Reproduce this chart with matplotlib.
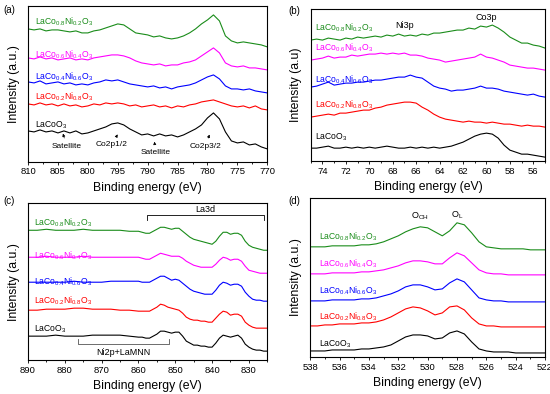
import numpy as np
import matplotlib.pyplot as plt
from matplotlib.ticker import MultipleLocator, AutoMinorLocator

plt.rcParams['font.family'] = ['Liberation Sans', 'DejaVu Sans']
plt.rcParams['mathtext.default'] = 'regular'

names = [r'LaCoO$_3$', r'LaCo$_{0.2}$Ni$_{0.8}$O$_3$', r'LaCo$_{0.4}$Ni$_{0.6}$O$_3$',
         r'LaCo$_{0.6}$Ni$_{0.4}$O$_3$', r'LaCo$_{0.8}$Ni$_{0.2}$O$_3$']
colors = ['black', '#ff0000', '#0000ff', '#ff00ff', '#1a8c1a']

# ---- (a) Co2p ----
x_a = np.arange(810, 769, -1)
a_black = [31, 30, 32, 30, 31, 29, 31, 29, 31, 28, 29, 31, 33, 35, 38, 39, 37, 33, 30, 27, 28,
           26, 28, 26, 27, 25, 27, 30, 33, 37, 44, 49, 43, 30, 21, 19, 20, 17, 18, 15, 13]
a_red = [58, 57, 59, 57, 58, 56, 58, 56, 57, 55, 56, 58, 57, 59, 58, 59, 58, 56, 57, 55, 56,
         57, 55, 56, 54, 56, 55, 57, 58, 60, 61, 62, 60, 58, 56, 55, 56, 54, 56, 53, 52]
a_blue = [80, 79, 81, 78, 79, 80, 78, 79, 77, 78, 77, 79, 80, 82, 81, 82, 80, 78, 77, 76, 75,
          76, 74, 75, 73, 75, 76, 77, 79, 82, 85, 87, 83, 76, 73, 73, 72, 73, 71, 70, 69]
a_mag = [104, 103, 105, 103, 104, 102, 103, 104, 102, 103, 102, 104, 105, 106, 107, 107, 106, 104, 101, 99, 98,
         97, 98, 96, 97, 97, 99, 100, 102, 106, 110, 114, 109, 99, 96, 95, 96, 94, 94, 93, 92]
a_green = [133, 132, 133, 131, 132, 132, 131, 130, 131, 129, 129, 131, 132, 134, 136, 138, 137, 133, 129, 128, 127,
           125, 126, 124, 123, 124, 126, 129, 133, 138, 142, 147, 141, 126, 121, 119, 120, 119, 118, 117, 115]
a_labels_y = [37, 65, 85, 107, 140]

# ---- (b) Ni3p / Co3p ----
x_b = np.arange(75, 54.9, -0.5)
b_black = [13, 13, 14, 15, 13, 13, 14, 13, 14, 13, 14, 13, 14, 15, 14, 13, 13, 14, 13, 14, 13,
           14, 13, 14, 15, 17, 19, 22, 25, 27, 28, 27, 23, 16, 11, 9, 7, 7, 6, 5, 4]
b_red = [44, 45, 46, 47, 46, 48, 48, 49, 50, 51, 51, 53, 54, 56, 57, 58, 59, 59, 58, 54, 51,
         47, 44, 42, 41, 40, 39, 40, 39, 39, 38, 39, 38, 37, 37, 36, 35, 36, 35, 35, 34]
b_blue = [74, 75, 77, 79, 76, 77, 78, 78, 79, 79, 80, 81, 81, 82, 83, 84, 84, 86, 84, 83, 79,
          75, 73, 72, 70, 71, 71, 72, 73, 75, 73, 73, 72, 70, 69, 68, 67, 66, 67, 65, 64]
b_mag = [101, 102, 103, 105, 103, 104, 104, 106, 105, 106, 107, 107, 108, 107, 108, 107, 108, 106, 106, 105, 103,
         102, 101, 99, 100, 101, 102, 103, 104, 107, 104, 103, 101, 99, 96, 95, 94, 93, 93, 92, 91]
b_green = [121, 122, 121, 123, 122, 121, 123, 122, 124, 123, 124, 125, 124, 126, 125, 127, 125, 126, 125, 127, 126,
           128, 128, 129, 130, 131, 131, 133, 132, 135, 134, 136, 133, 129, 124, 121, 118, 118, 116, 115, 113]
b_labels_y = [24, 56, 81, 113, 133]

# ---- (c) La3d ----
x_c = [890, 887.5, 885, 882.5, 880, 877.5, 875, 872.5, 870, 867.5, 865, 862.5, 860, 859, 858, 857, 856,
       855, 854, 853, 852, 851, 850, 849, 848, 847, 846, 845, 844, 843, 842, 841, 840, 839, 838, 837,
       836, 835, 834, 833, 832, 831, 830, 829, 828, 827, 826, 825]
c_black = [24, 24, 24, 25, 24, 24, 24, 25, 25, 25, 25, 24, 23, 23, 22, 22, 24, 26, 29, 29, 28, 27, 28, 28,
           24, 19, 17, 15, 15, 14, 14, 13, 13, 17, 22, 25, 24, 23, 24, 25, 22, 16, 13, 11, 10, 10, 9, 9]
c_red = [50, 50, 51, 51, 51, 52, 52, 51, 51, 51, 50, 50, 49, 49, 49, 49, 51, 53, 56, 55, 53, 52, 51, 50,
         47, 43, 41, 40, 40, 39, 39, 38, 38, 42, 46, 49, 48, 45, 46, 46, 44, 38, 35, 33, 32, 32, 32, 32]
c_blue = [78, 78, 78, 78, 78, 79, 78, 78, 78, 79, 79, 79, 79, 78, 78, 78, 80, 82, 84, 84, 82, 80, 81, 80,
          77, 74, 71, 69, 68, 67, 66, 66, 66, 70, 75, 78, 77, 75, 76, 76, 74, 68, 64, 61, 60, 60, 59, 59]
c_mag = [103, 103, 104, 103, 103, 103, 104, 103, 103, 103, 103, 103, 103, 102, 101, 101, 103, 105, 107, 106, 105, 104, 104, 104,
         102, 99, 97, 95, 94, 93, 93, 93, 93, 96, 100, 103, 102, 100, 101, 101, 99, 94, 90, 89, 88, 87, 87, 87]
c_green = [130, 130, 131, 130, 130, 130, 131, 130, 130, 130, 130, 129, 129, 128, 127, 127, 129, 131, 133, 133, 132, 131, 132, 132,
           129, 126, 123, 121, 120, 119, 118, 117, 116, 119, 124, 128, 128, 126, 127, 127, 125, 119, 115, 113, 112, 111, 110, 110]
c_labels_y = [31, 59, 78, 104, 138]

# ---- (d) O1s ----
x_d = np.arange(538, 521.9, -0.5)
d_black = [6, 6, 6, 7, 7, 7, 7, 8, 8, 9, 10, 12, 16, 20, 22, 22, 21, 18, 19, 24, 26, 23, 15, 8, 6, 5, 5, 5, 4, 4, 4, 4, 4]
d_red = [31, 31, 32, 32, 33, 33, 33, 34, 34, 35, 37, 40, 44, 48, 50, 49, 46, 42, 44, 50, 51, 47, 39, 33, 31, 31, 30, 30, 30, 30, 30, 30, 30]
d_blue = [56, 56, 56, 57, 57, 57, 57, 58, 58, 59, 61, 63, 66, 70, 72, 72, 70, 67, 68, 74, 78, 75, 67, 59, 57, 56, 56, 55, 55, 55, 55, 55, 55]
d_mag = [83, 83, 83, 84, 84, 84, 84, 85, 85, 86, 87, 89, 91, 94, 96, 96, 95, 93, 93, 99, 104, 101, 94, 87, 84, 83, 83, 82, 82, 82, 82, 82, 82]
d_green = [110, 110, 110, 111, 111, 111, 111, 112, 112, 113, 115, 118, 121, 125, 128, 130, 129, 125, 121, 126, 134, 132, 124, 115, 110, 109, 108, 108, 108, 108, 107, 107, 107]
d_labels_y = [13, 40, 66, 93, 120]

fig = plt.figure(figsize=(5.5, 3.94), dpi=100)
ax_a = fig.add_axes([0.051, 0.589, 0.435, 0.396])
ax_b = fig.add_axes([0.565, 0.591, 0.426, 0.386])
ax_c = fig.add_axes([0.051, 0.086, 0.435, 0.398])
ax_d = fig.add_axes([0.564, 0.094, 0.427, 0.404])

panels = [
    (ax_a, x_a, [a_black, a_red, a_blue, a_mag, a_green], (810, 770), 156, 5, a_labels_y, 808.8, 'Intensity (a.u.)'),
    (ax_b, x_b, [b_black, b_red, b_blue, b_mag, b_green], (75, 55), 152, 2, b_labels_y, 74.6, 'Intensity (a.u)'),
    (ax_c, x_c, [c_black, c_red, c_blue, c_mag, c_green], (890, 825), 157, 10, c_labels_y, 888.5, 'Intensity (a.u.)'),
    (ax_d, x_d, [d_black, d_red, d_blue, d_mag, d_green], (538, 522), 159, 2, d_labels_y, 537.4, 'Intensity (a.u.)'),
]

for ax, x, ys, xlim, ytop, major, lab_y, lab_x, ylab in panels:
    for y, c, name, ly in zip(ys, colors, names, lab_y):
        ax.plot(x, y, color=c, lw=0.8)
        ax.text(lab_x, ly, name, color=c, fontsize=6.2, ha='left', va='center')
    ax.set_xlim(*xlim)
    ax.set_ylim(0, ytop)
    ax.set_yticks([])
    ax.xaxis.set_major_locator(MultipleLocator(major))
    ax.xaxis.set_minor_locator(AutoMinorLocator(2))
    ax.tick_params(axis='x', which='major', length=2.5, width=0.6, labelsize=6.8, pad=1.5)
    ax.tick_params(axis='x', which='minor', length=1.5, width=0.6)
    for s in ax.spines.values():
        s.set_linewidth(0.8)
    ax.set_xlabel('Binding energy (eV)', fontsize=8.8, labelpad=4)
    ax.set_ylabel(ylab, fontsize=8.8, labelpad=6)

# annotations (a)
ann = dict(arrowstyle='-|>', lw=0.5, color='black', mutation_scale=4)
ax_a.annotate('Satellite', xy=(804.3, 31), xytext=(803.5, 15), fontsize=6, ha='center', va='center', arrowprops=ann)
ax_a.annotate('Co2p1/2', xy=(794.8, 30), xytext=(796, 17), fontsize=6, ha='center', va='center', arrowprops=ann)
ax_a.annotate('Satellite', xy=(788.9, 23), xytext=(788.7, 9), fontsize=6, ha='center', va='center', arrowprops=ann)
ax_a.annotate('Co2p3/2', xy=(779.5, 30), xytext=(780.4, 15), fontsize=6, ha='center', va='center', arrowprops=ann)

# annotations (b)
ax_b.text(67.0, 136, 'Ni3p', fontsize=6.5, ha='center', va='center')
ax_b.text(60.0, 144, 'Co3p', fontsize=6.5, ha='center', va='center')

# brackets (c)
ax_c.plot([857.6, 857.6, 825.8, 825.8], [140, 145, 145, 140], color='black', lw=0.6)
ax_c.text(841.9, 151, 'La3d', fontsize=6.5, ha='center', va='center')
ax_c.plot([876.4, 876.4, 851.7, 851.7], [21, 16, 16, 21], color='#555555', lw=0.6)
ax_c.text(864, 8, 'Ni2p+LaMNN', fontsize=6.5, ha='center', va='center')

# labels (d)
ax_d.text(530.5, 141, r'O$_{OH}$', fontsize=6.5, ha='center', va='center')
ax_d.text(528.0, 142, r'O$_L$', fontsize=6.5, ha='center', va='center')

fig.text(0.006, 0.975, '(a)', fontsize=7, va='center')
fig.text(0.525, 0.973, '(b)', fontsize=7, va='center')
fig.text(0.006, 0.491, '(c)', fontsize=7, va='center')
fig.text(0.525, 0.491, '(d)', fontsize=7, va='center')

fig.savefig('out.png', dpi=100)
